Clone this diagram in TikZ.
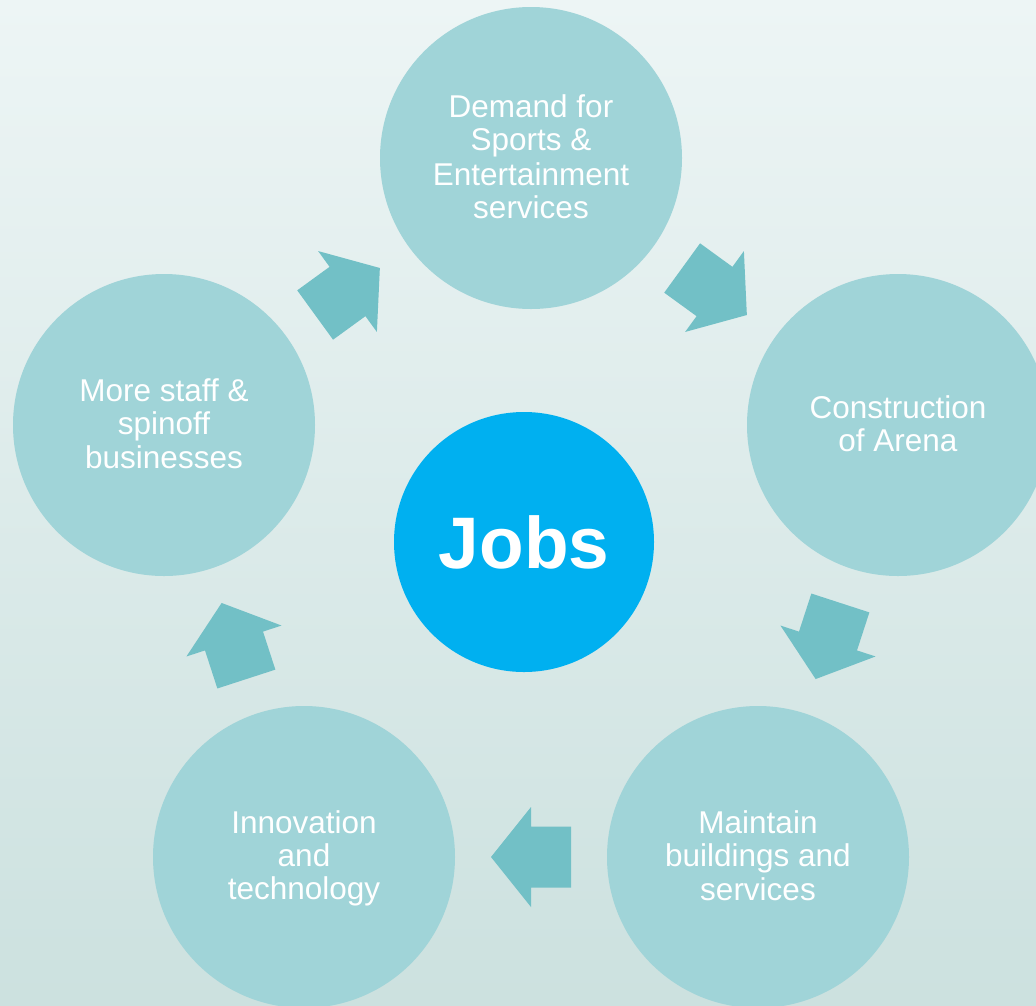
\documentclass[tikz,border=0pt]{standalone}
\usepackage{fontspec}
\setmainfont{Liberation Sans}
\usetikzlibrary{calc}
\definecolor{bgtop}{HTML}{EDF5F5}
\definecolor{bgbot}{HTML}{CCE1DF}
\definecolor{circfill}{HTML}{A0D4D8}
\definecolor{arrfill}{HTML}{72C0C6}
\definecolor{jobsfill}{HTML}{00B0F0}
\newcommand\lstrut{\rule[-6.5pt]{0pt}{33pt}}
\begin{document}
\begin{tikzpicture}[x=1pt,y=-1pt,
  bubble/.style={circle, fill=circfill, minimum size=302pt, inner sep=0pt,
    text=white, align=center, font=\fontsize{31.5}{33}\selectfont},
  hub/.style={circle, fill=jobsfill, minimum size=260pt, inner sep=0pt,
    text=white, font=\bfseries\fontsize{73}{80}\selectfont},
  blockarrow/.pic={\fill[arrfill] (-40,-30.5) -- (0,-30.5) -- (0,-50) -- (40,0)
    -- (0,50) -- (0,30.5) -- (-40,30.5) -- cycle;}
]
\useasboundingbox (0,0) rectangle (1036,1005);
\clip (0,0) rectangle (1036,1005);
\shade[top color=bgtop, bottom color=bgbot] (0,0) rectangle (1036,1005);

\node[bubble] (T)  at (531,158) {\lstrut Demand for\\\lstrut Sports \&\\\lstrut Entertainment\\\lstrut services};
\node[bubble] (R)  at (898,425) {\lstrut Construction\\\lstrut of Arena};
\node[bubble] (BR) at (758,857) {\lstrut Maintain\\\lstrut buildings and\\\lstrut services};
\node[bubble] (BL) at (304,857) {\lstrut Innovation\\\lstrut and\\\lstrut technology};
\node[bubble] (L)  at (164,425) {\lstrut More staff \&\\\lstrut spinoff\\\lstrut businesses};
\node[hub] (J) at (524,542) {Jobs};

\pic[rotate=36]   at ($(L)!0.5!(T)$)   {blockarrow};
\pic[rotate=-36]  at ($(T)!0.5!(R)$)   {blockarrow};
\pic[rotate=-108] at ($(R)!0.5!(BR)$)  {blockarrow};
\pic[rotate=180]  at ($(BR)!0.5!(BL)$) {blockarrow};
\pic[rotate=108]  at ($(BL)!0.5!(L)$)  {blockarrow};
\end{tikzpicture}
\end{document}
